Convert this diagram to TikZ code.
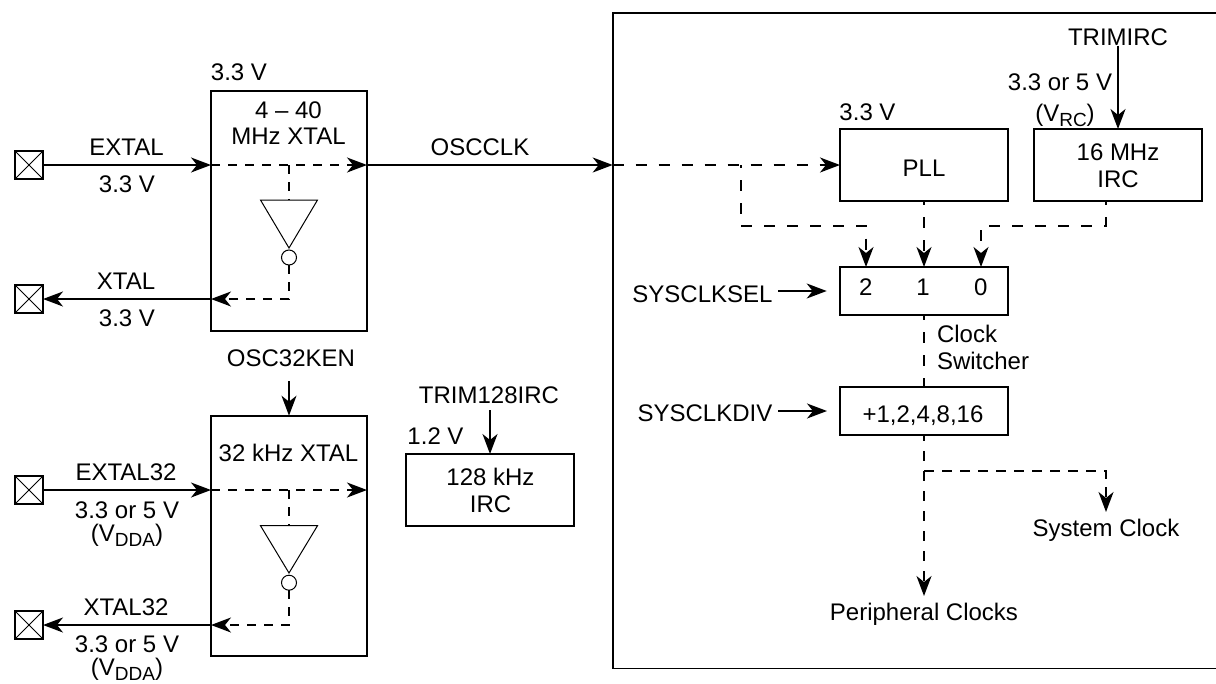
\documentclass[tikz,border=0pt]{standalone}
\usepackage{fontspec}
\setmainfont{Liberation Sans}
\usetikzlibrary{arrows.meta,calc}
\newcommand{\subtxt}[1]{\raisebox{-5pt}{\fontsize{19}{19}\selectfont #1}}
\newcommand{\lab}[4]{\node[lbl,anchor=base] (#1) at (#2,{#3+8.6}) {#4};}
\tikzset{
  x=1pt,y=-1pt,
  blockbox/.style={draw,line width=1.7pt,inner sep=0pt,outer sep=0pt},
  lbl/.style={font=\fontsize{24}{27}\selectfont,inner sep=0pt,outer sep=0pt,align=center},
  headtip/.style={-{Stealth[length=20pt,width=15pt,inset=6pt]}},
  sol/.style={line width=1.7pt,headtip},
  dsh/.style={line width=1.7pt,dash pattern=on 11pt off 12pt,headtip},
  dshin/.style={line width=1.7pt,dash pattern=on 9pt off 8pt,headtip},
  dshplain/.style={line width=1.7pt,dash pattern=on 9pt off 8pt},
  thinline/.style={line width=1pt},
  bubble/.style={draw,thinline,circle,minimum size=15pt,inner sep=0pt,outer sep=0pt},
  padbox/.style={draw,line width=1.7pt,minimum width=28pt,minimum height=28pt,inner sep=0pt,outer sep=0pt,
    path picture={\draw[thinline] (path picture bounding box.north west)--(path picture bounding box.south east)
      (path picture bounding box.north east)--(path picture bounding box.south west);}}
}
\begin{document}
\begin{tikzpicture}
\useasboundingbox (0,0) rectangle (1216,683);
% pads
\node[padbox] (p1) at (29,165) {};
\node[padbox] (p2) at (29,299) {};
\node[padbox] (p3) at (29,490) {};
\node[padbox] (p4) at (29,625) {};
% blocks
\node[blockbox,minimum width=156pt,minimum height=240pt] (xa) at (289,211) {};
\node[blockbox,minimum width=156pt,minimum height=240pt] (xb) at (289,535.7) {};
\node[blockbox,minimum width=168pt,minimum height=72pt] (slow) at (490,490) {};
\node[blockbox,minimum width=168pt,minimum height=72pt] (pll) at (924,165) {};
\node[blockbox,minimum width=168pt,minimum height=72pt] (irc) at (1118,165) {};
\node[blockbox,minimum width=168pt,minimum height=48pt] (mux) at (924,291) {};
\node[blockbox,minimum width=168pt,minimum height=48pt] (div) at (924,411) {};
% outer frame, open at the right edge
\draw[line width=1.7pt] (1217,13)--(612.7,13)--(612.7,668.5)--(1217,668.5);
\coordinate (fin) at (612.7,165);
% inverters
\node[bubble] (ia) at (289,257.5) {};
\node[bubble] (ib) at (289,582.7) {};
\coordinate (iatop) at (289,200);
\coordinate (ibtop) at (289,525.7);
\draw[thinline] (260.5,200)--(317.5,200)--(289,248)--cycle;
\draw[thinline] (260.5,525.7)--(317.5,525.7)--(289,573)--cycle;
% labels
\lab{t1}{126.5}{147}{EXTAL}
\lab{t2}{127}{184}{3.3 V}
\lab{t3}{126}{281}{XTAL}
\lab{t4}{127}{318}{3.3 V}
\lab{t5}{239}{72}{3.3 V}
\node[lbl,font=\fontsize{24}{26}\selectfont] (t6) at (288.5,123) {4 – 40\\MHz XTAL};
\lab{t7}{480}{147}{OSCCLK}
\lab{t8}{291}{358}{OSC32KEN}
\lab{t9}{126}{472}{EXTAL32}
\lab{t10}{127}{510}{3.3 or 5 V}
\lab{t11}{127}{533}{(V\subtxt{DDA})}
\lab{t12}{126}{607}{XTAL32}
\lab{t13}{127}{644}{3.3 or 5 V}
\lab{t14}{127}{667}{(V\subtxt{DDA})}
\lab{t15}{288.5}{453}{32 kHz XTAL}
\lab{t16}{489}{395}{TRIM128IRC}
\lab{t17}{435.5}{436}{1.2 V}
\node[lbl] (t18) at (490.5,490.5) {128 kHz\\IRC};
\lab{t19}{1118}{36.7}{TRIMIRC}
\lab{t20}{1060}{81.7}{3.3 or 5 V}
\lab{t21}{1065}{113}{(V\subtxt{RC})}
\lab{t22}{867.5}{111.5}{3.3 V}
\lab{t23}{924}{167.5}{PLL}
\node[lbl] (t24) at (1118,165.3) {16 MHz\\IRC};
\lab{t25}{865.7}{286.7}{2}
\lab{t26}{923}{286.7}{1}
\lab{t27}{980.7}{286.7}{0}
\lab{t28}{702.5}{294}{SYSCLKSEL}
\lab{t29}{705}{413}{SYSCLKDIV}
\node[lbl,align=left,anchor=west] (t30) at (937,347.5) {Clock\\Switcher};
\lab{t31}{923}{414}{+1,2,4,8,16}
\lab{t32}{1106}{527.7}{System Clock}
\lab{t33}{924}{612}{Peripheral Clocks}
% anchors for the free arrow ends
\coordinate (selend) at (826.7,291);
\coordinate (divend) at (827,411);
\coordinate (clkend) at (924,596);
\coordinate (sysend) at (1106,512);
% solid connectors
\draw[sol] (p1.east)--(p1.east -| xa.west);
\draw[sol] (xa.west |- p2.east)--(p2.east);
\draw[sol] (p3.east)--(p3.east -| xb.west);
\draw[sol] (xb.west |- p4.east)--(p4.east);
\draw[sol] (p1 -| xa.east)--(fin);
\draw[sol] (289,381)--(xb.north);
\draw[sol] (490,410)--(slow.north);
\draw[sol] (irc.north |- t19.south)--(irc.north);
\draw[sol] (778,291)--(selend);
\draw[sol] (778,411)--(divend);
% dashed connectors
\draw[dshin] (p1 -| xa.west)--(p1 -| xa.east);
\draw[dshplain] (ia |- p1)--(iatop);
\draw[dshin] (ia.south)--(ia |- p2)--(p2 -| xa.west);
\draw[dshin] (p3 -| xb.west)--(p3 -| xb.east);
\draw[dshplain] (ib |- p3)--(ibtop);
\draw[dshin] (ib.south)--(ib |- p4)--(p4 -| xb.west);
\draw[dsh] (fin)--(pll.west);
\draw[dsh,dash phase=8pt] (740.7,165)--(740.7,225.7)--(866,225.7)--(866,0 |- mux.north);
\draw[dsh,dash phase=7pt] (pll.south)--(mux.north);
\draw[dsh,dash phase=7pt] (1106,0 |- irc.south)--(1106,225.7)--(981,225.7)--(981,0 |- mux.north);
\draw[line width=1.7pt,dash pattern=on 11pt off 12pt,dash phase=6pt] (mux.south)--(div.north);
\draw[line width=1.7pt,dash pattern=on 10pt off 10pt,dash phase=4pt,headtip] (div.south)--(clkend);
\draw[line width=1.7pt,dash pattern=on 10pt off 8pt,headtip] (924,471)--(1106,471)--(sysend);
\end{tikzpicture}
\end{document}
